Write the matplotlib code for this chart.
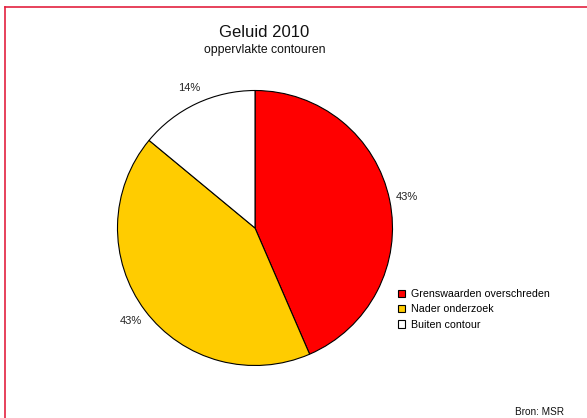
import matplotlib
matplotlib.use("Agg")
import matplotlib.pyplot as plt
from matplotlib.patches import Patch
from matplotlib.lines import Line2D

plt.rcParams['font.family'] = ['Liberation Sans', 'DejaVu Sans']

categories = ["Grenswaarden overschreden", "Nader onderzoek", "Buiten contour"]
values = [43.5, 42.5, 14.0]
pct_labels = ["43%", "43%", "14%"]
colors = ["#ff0000", "#ffcc00", "#ffffff"]
title = "Geluid 2010"
subtitle = "oppervlakte contouren"
source = "Bron: MSR"

W, H = 587, 418
fig = plt.figure(figsize=(W / 100, H / 100), dpi=100)

# pie axes: center (255, 228) px, radius 137.5 px
cx, cy, r = 255, 228, 137.5
ax = fig.add_axes([(cx - r) / W, (H - cy - r) / H, 2 * r / W, 2 * r / H])
wedges, texts = ax.pie(values, colors=colors, startangle=90, counterclock=False,
                       labels=pct_labels, labeldistance=1.125,
                       wedgeprops=dict(edgecolor="black", linewidth=0.8),
                       textprops=dict(fontsize=8, color="#222222"))
for t in texts:
    t.set_ha("center")
    t.set_va("center")
ax.set_xlim(-1, 1)
ax.set_ylim(-1, 1)
ax.set_aspect("equal")
ax.axis("off")

fig.text(264.5 / W, 1 - 32.5 / H, title, ha="center", va="center", fontsize=12, color="#111111")
fig.text(264.5 / W, 1 - 50.5 / H, subtitle, ha="center", va="center", fontsize=8.8, color="#111111")
fig.text(564 / W, 1 - 412 / H, source, ha="right", va="center", fontsize=7.2, color="#111111")

handles = [Patch(facecolor=c, edgecolor="black", linewidth=0.8) for c in colors]
fig.legend(handles, categories, loc="upper left", bbox_to_anchor=(398 / W, 1 - 289 / H),
           frameon=False, fontsize=7.7, handlelength=0.7, handleheight=0.7,
           handletextpad=0.5, labelspacing=0.5, borderpad=0, borderaxespad=0)

# border (top and left visible)
bc = "#e3213f"
fig.add_artist(Line2D([4.5 / W, 1.0], [1 - 6.7 / H, 1 - 6.7 / H], color=bc, linewidth=1.2,
                      transform=fig.transFigure))
fig.add_artist(Line2D([4.5 / W, 4.5 / W], [0, 1 - 6.7 / H], color=bc, linewidth=1.2,
                      transform=fig.transFigure))

fig.savefig("out.png", dpi=100)
